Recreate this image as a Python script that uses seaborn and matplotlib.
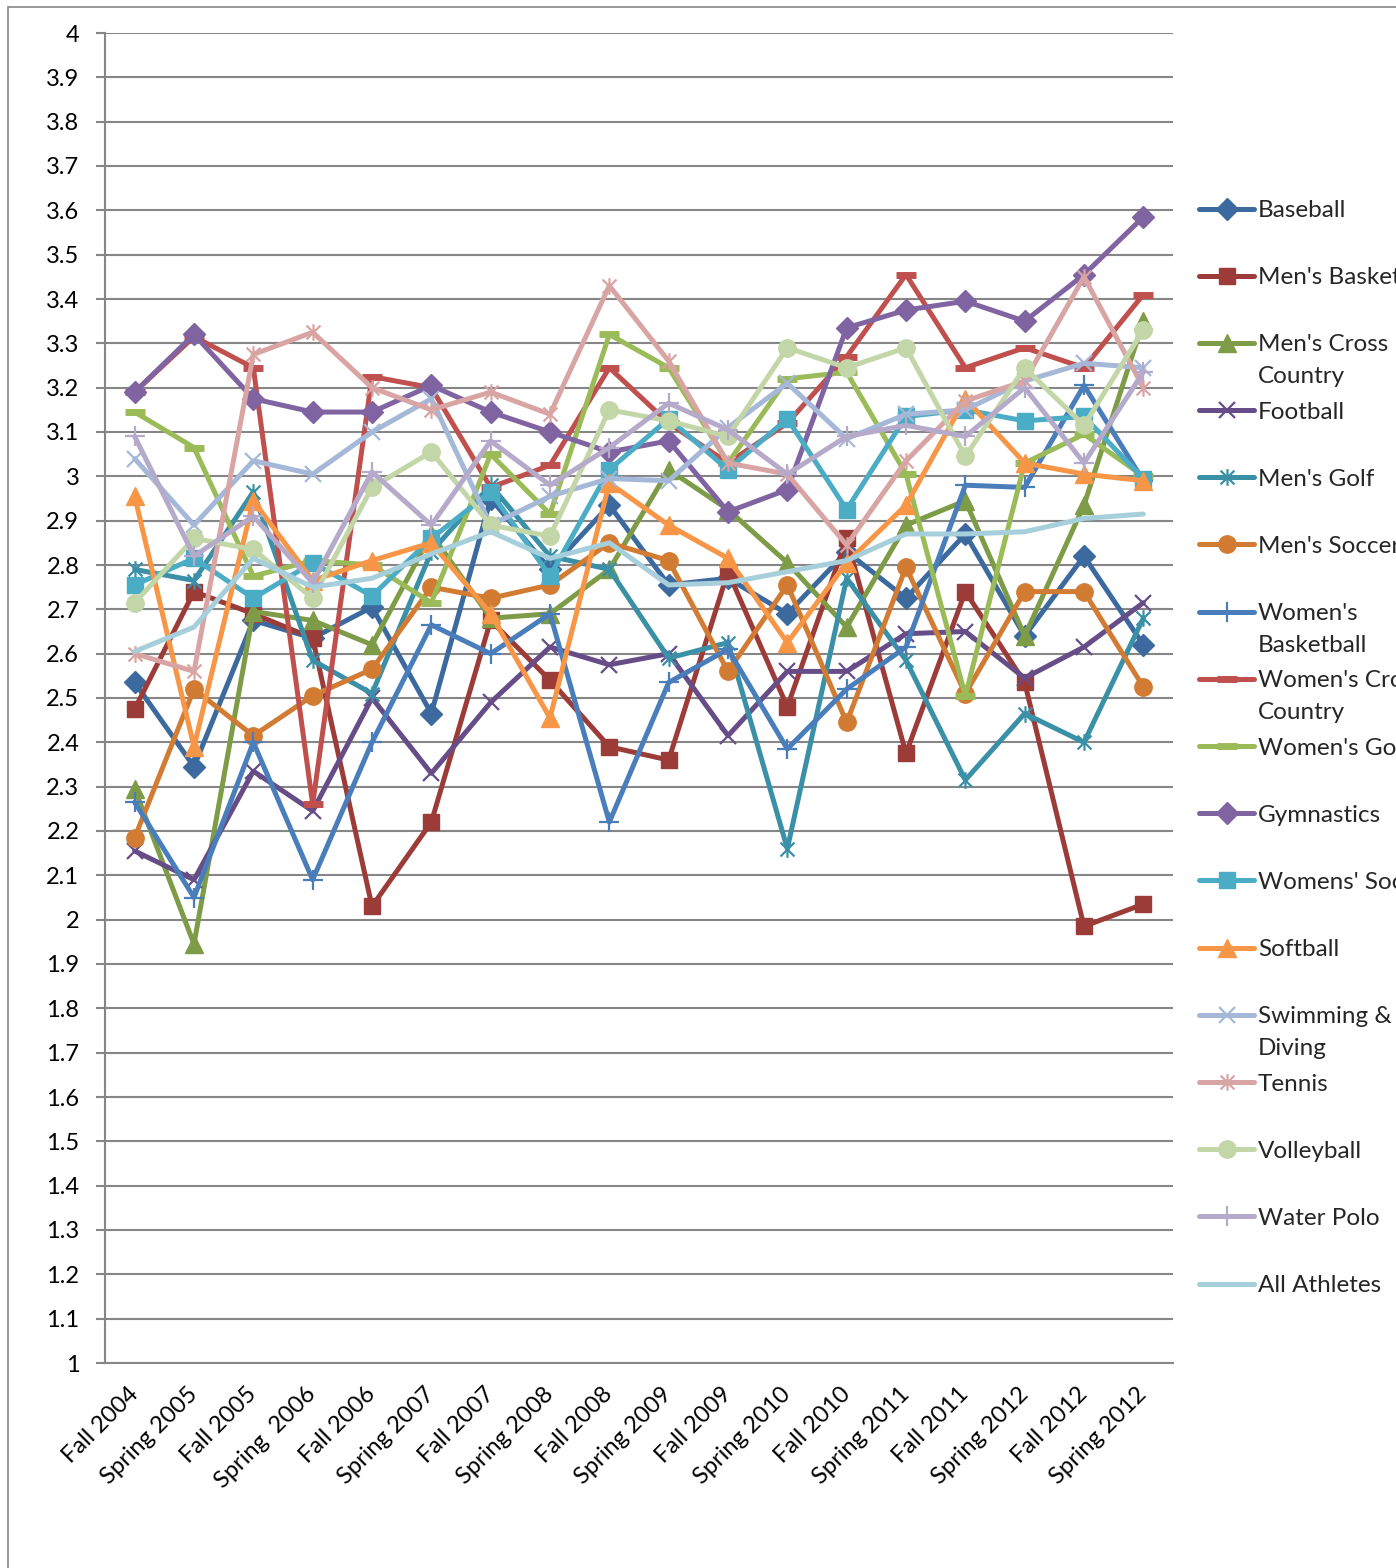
import numpy as np
import matplotlib
matplotlib.use("Agg")
import matplotlib.pyplot as plt
from matplotlib.path import Path
from matplotlib.patches import Rectangle
import seaborn as sns

# Terms (x categories) -- note "Spring 2012" really appears twice in the source chart
terms = ["Fall 2004", "Spring 2005", "Fall 2005", "Spring  2006", "Fall 2006", "Spring 2007",
         "Fall 2007", "Spring 2008", "Fall 2008", "Spring 2009", "Fall 2009", "Spring 2010",
         "Fall 2010", "Spring 2011", "Fall 2011", "Spring 2012", "Fall 2012", "Spring 2012"]

baseball = [2.535, 2.345, 2.675, 2.635, 2.705, 2.465, 2.95, 2.79, 2.935, 2.755, 2.77, 2.69, 2.83, 2.725, 2.87, 2.64, 2.82, 2.62]
mens_basketball = [2.475, 2.74, 2.69, 2.635, 2.03, 2.22, 2.675, 2.54, 2.39, 2.36, 2.785, 2.48, 2.86, 2.375, 2.74, 2.535, 1.985, 2.035]
mens_cross_country = [2.295, 1.945, 2.695, 2.675, 2.62, 2.87, 2.68, 2.69, 2.79, 3.015, 2.925, 2.805, 2.66, 2.89, 2.945, 2.64, 2.935, 3.35]
football = [2.155, 2.09, 2.335, 2.245, 2.50, 2.33, 2.49, 2.615, 2.575, 2.60, 2.415, 2.56, 2.56, 2.645, 2.65, 2.545, 2.615, 2.715]
mens_golf = [2.79, 2.765, 2.965, 2.585, 2.51, 2.83, 2.98, 2.82, 2.79, 2.59, 2.625, 2.16, 2.77, 2.585, 2.315, 2.465, 2.40, 2.68]
mens_soccer = [2.185, 2.52, 2.415, 2.505, 2.565, 2.75, 2.725, 2.755, 2.85, 2.81, 2.56, 2.755, 2.445, 2.795, 2.51, 2.74, 2.74, 2.525]
womens_basketball = [2.265, 2.05, 2.40, 2.09, 2.40, 2.665, 2.60, 2.69, 2.22, 2.535, 2.61, 2.385, 2.52, 2.615, 2.98, 2.975, 3.205, 2.99]
womens_cross_country = [3.19, 3.315, 3.245, 2.26, 3.225, 3.20, 2.975, 3.025, 3.245, 3.12, 3.03, 3.12, 3.27, 3.455, 3.245, 3.29, 3.245, 3.41]
womens_golf = [3.145, 3.065, 2.775, 2.81, 2.80, 2.715, 3.05, 2.915, 3.32, 3.245, 3.03, 3.22, 3.235, 3.005, 2.505, 3.03, 3.095, 3.00]
gymnastics = [3.19, 3.32, 3.175, 3.145, 3.145, 3.205, 3.145, 3.10, 3.055, 3.08, 2.92, 2.97, 3.335, 3.375, 3.395, 3.35, 3.455, 3.585]
womens_soccer = [2.755, 2.815, 2.725, 2.805, 2.73, 2.86, 2.965, 2.775, 3.015, 3.13, 3.015, 3.13, 2.925, 3.135, 3.15, 3.125, 3.135, 2.995]
softball = [2.955, 2.39, 2.945, 2.765, 2.81, 2.85, 2.69, 2.455, 2.985, 2.89, 2.815, 2.625, 2.805, 2.935, 3.175, 3.03, 3.005, 2.99]
swimming_diving = [3.04, 2.89, 3.035, 3.005, 3.10, 3.175, 2.89, 2.955, 2.995, 2.99, 3.11, 3.21, 3.085, 3.14, 3.15, 3.215, 3.255, 3.245]
tennis = [2.60, 2.56, 3.275, 3.325, 3.20, 3.15, 3.19, 3.14, 3.43, 3.26, 3.03, 3.005, 2.845, 3.035, 3.17, 3.215, 3.45, 3.20]
volleyball = [2.715, 2.86, 2.835, 2.725, 2.975, 3.055, 2.89, 2.865, 3.15, 3.125, 3.09, 3.29, 3.245, 3.29, 3.045, 3.245, 3.115, 3.33]
water_polo = [3.09, 2.82, 2.91, 2.76, 3.01, 2.89, 3.08, 2.98, 3.065, 3.165, 3.105, 3.005, 3.09, 3.115, 3.09, 3.20, 3.03, 3.235]
all_athletes = [2.605, 2.66, 2.815, 2.75, 2.77, 2.825, 2.875, 2.815, 2.85, 2.755, 2.76, 2.785, 2.81, 2.87, 2.87, 2.875, 2.905, 2.915]

# legend names ("\n" marks where the legend wraps the text)
names = ["Baseball", "Men's Basketball", "Men's Cross\nCountry", "Football", "Men's Golf",
         "Men's Soccer", "Women's\nBasketball", "Women's Cross\nCountry", "Women's Golf",
         "Gymnastics", "Womens' Soccer", "Softball", "Swimming &\nDiving", "Tennis",
         "Volleyball", "Water Polo", "All Athletes"]
values = [baseball, mens_basketball, mens_cross_country, football, mens_golf, mens_soccer,
          womens_basketball, womens_cross_country, womens_golf, gymnastics, womens_soccer,
          softball, swimming_diving, tennis, volleyball, water_polo, all_athletes]

colors = ["#3C6A9F", "#9C3C39", "#7E9C47", "#664D87", "#3A90A7", "#D27B33",
          "#4A7EBB", "#C0504D", "#9BBB59", "#8064A2", "#4BACC6", "#F79646",
          "#A5B8D8", "#D9A5A4", "#C3D6A8", "#B6AACA", "#A6CEDB"]

asterisk = Path([(-1, -1), (1, 1), (-1, 1), (1, -1), (0, -1.2), (0, 1.2)],
                [Path.MOVETO, Path.LINETO, Path.MOVETO, Path.LINETO, Path.MOVETO, Path.LINETO])
markers = ["D", "s", "^", "x", asterisk, "o", "+", "_", "_", "D", "s", "^", "x", asterisk, "o", "+", None]

# marker size / edge width per marker kind
def marker_style(m):
    if m == "D":
        return 11, 1
    if m == "s":
        return 11, 1
    if m == "^":
        return 13, 1
    if m == "o":
        return 12.5, 1
    if m == "x":
        return 11, 1.6
    if m == "+":
        return 15, 1.6
    if m == "_":
        return 15, 5
    return 12, 1.6

sns.set_theme(style="white")
plt.rcParams["font.family"] = ["Lato", "DejaVu Sans"]

W, H = 1396, 1568
fig = plt.figure(figsize=(W / 100, H / 100), dpi=100)
ax = fig.add_axes([105 / W, 1 - 1363 / H, (1173 - 105) / W, (1363 - 33) / H])

x = np.arange(len(terms))
handles = []
for name, vals, c, m in zip(names, values, colors, markers):
    if m is None:
        sns.lineplot(x=x, y=vals, ax=ax, color=c, linewidth=3.6, errorbar=None, legend=False)
    else:
        ms, mew = marker_style(m)
        sns.lineplot(x=x, y=vals, ax=ax, color=c, linewidth=3.6, errorbar=None, legend=False,
                     marker=m, markersize=ms, markeredgewidth=mew, markeredgecolor=c)
    handles.append(ax.lines[-1])

grey = "#868686"
ax.set_ylim(1, 4)
ax.set_xlim(-0.5, len(terms) - 0.5)
yt = np.round(np.arange(1, 4.001, 0.1), 1)
ax.set_yticks(yt)
ax.set_yticklabels([f"{t:g}" for t in yt])
ax.yaxis.grid(True, color=grey, linewidth=1.5)
ax.xaxis.grid(False)
ax.set_axisbelow(True)

ax.set_xticks(x)
ax.set_xticklabels(terms, rotation=45, ha="right", va="center", rotation_mode="anchor")
ax.set_xticks(np.arange(-0.5, len(terms), 1), minor=True)
ax.tick_params(axis="x", which="major", length=0, pad=20, labelsize=17, labelcolor="black")
ax.tick_params(axis="x", which="minor", length=6.5, width=1.5, color=grey, direction="out")
ax.tick_params(axis="y", length=6.5, width=1.5, color=grey, direction="out", pad=12,
               labelsize=17, labelcolor="black", left=True)

for side in ["top", "right"]:
    ax.spines[side].set_visible(False)
for side in ["left", "bottom"]:
    ax.spines[side].set_color(grey)
    ax.spines[side].set_linewidth(1.5)

# legend runs off the right edge of the picture, as in the original
leg = ax.legend(handles, [n.split("\n")[0] for n in names], loc="upper left",
                bbox_to_anchor=(1199 / W, 1 - 200 / H), bbox_transform=fig.transFigure,
                frameon=False, fontsize=17.5, labelspacing=1.9, handlelength=2.28,
                handletextpad=0.15, borderpad=0, borderaxespad=0, numpoints=1)
for txt, n in zip(leg.get_texts(), names):
    if "\n" in n:
        ax.annotate(n.split("\n")[1], xy=(0, 0), xycoords=txt, xytext=(0, -32),
                    textcoords="offset pixels", ha="left", va="bottom", fontsize=17.5,
                    zorder=10, annotation_clip=False)

# chart-area border (cut by the picture edges on the right and bottom)
fig.add_artist(Rectangle((8 / W, -0.1), 1.2, 1.1 - 7 / H, transform=fig.transFigure,
                         fill=False, edgecolor=grey, linewidth=1.2))

fig.canvas.draw()
fig.savefig("out.png", dpi=100)
